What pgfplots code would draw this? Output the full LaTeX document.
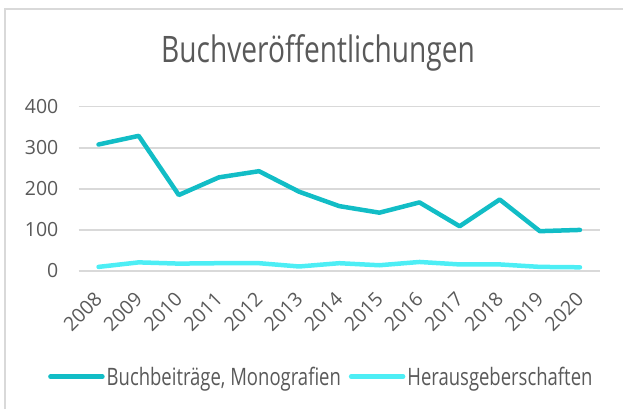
\documentclass[border=0pt]{standalone}
\usepackage{pgfplots}
\pgfplotsset{compat=1.18}
\usepackage{fontspec}
\setmainfont{Open Sans}
\newfontfamily\condfont{Open Sans}[FakeStretch=0.77]
\definecolor{txt}{HTML}{595959}
\definecolor{gridc}{HTML}{D9D9D9}
\definecolor{sOne}{HTML}{12BDC6}
\definecolor{sTwo}{HTML}{4DEEF5}
\begin{document}
\begin{tikzpicture}[x=1bp,y=1bp]
\path[use as bounding box] (0,0) rectangle (623,409);
\draw[gridc, line width=1.5bp] (5,0) -- (5,400) -- (623,400);
\node[anchor=base, text=txt, inner sep=0pt] at (318,346.3) {\condfont\fontsize{36.5bp}{40bp}\selectfont Buchveröffentlichungen};
\begin{axis}[
  at={(78.5bp,138bp)}, anchor=south west,
  scale only axis, width=521.5bp, height=164.3bp,
  xmin=-0.5, xmax=12.5, ymin=0, ymax=400,
  axis line style={draw=none},
  major tick length=0pt,
  tick style={draw=none},
  ymajorgrids, grid style={gridc, line width=1.5bp},
  ytick={0,100,200,300,400},
  xtick={0,...,12},
  xticklabels={2008,2009,2010,2011,2012,2013,2014,2015,2016,2017,2018,2019,2020},
  /pgf/number format/assume math mode=true,
  ticklabel style={font=\fontsize{19.5bp}{22bp}\selectfont, text=txt, inner sep=0pt},
  yticklabel style={anchor=east, xshift=-20bp},
  xticklabel style={yshift=-25bp, rotate=45, anchor=east},
  clip=false,
  legend style={at={(-0.0585,-0.6433)}, anchor=west, draw=none, fill=none,
    inner sep=0pt, font=\condfont\fontsize{24bp}{26bp}\selectfont, text=txt,
    nodes={inner sep=0pt},
    /tikz/every odd column/.style={column sep=2bp},
    /tikz/every even column/.style={column sep=8bp}},
  legend columns=2,
  legend image code/.code={\draw[#1] (0bp,0bp) -- (52bp,0bp);},
]
\addplot[sOne, line width=4.5bp, line cap=round, line join=round] coordinates {
(0,308) (1,329) (2,185) (3,228) (4,243) (5,193) (6,158) (7,142) (8,167) (9,109) (10,174) (11,97) (12,100)};
\addlegendentry{Buchbeiträge, Monografien}
\addplot[sTwo, line width=4.5bp, line cap=round, line join=round] coordinates {
(0,10) (1,21) (2,18) (3,19) (4,19) (5,11) (6,19) (7,14) (8,22) (9,16) (10,16) (11,10) (12,9)};
\addlegendentry{Herausgeberschaften}
\end{axis}
\end{tikzpicture}
\end{document}
